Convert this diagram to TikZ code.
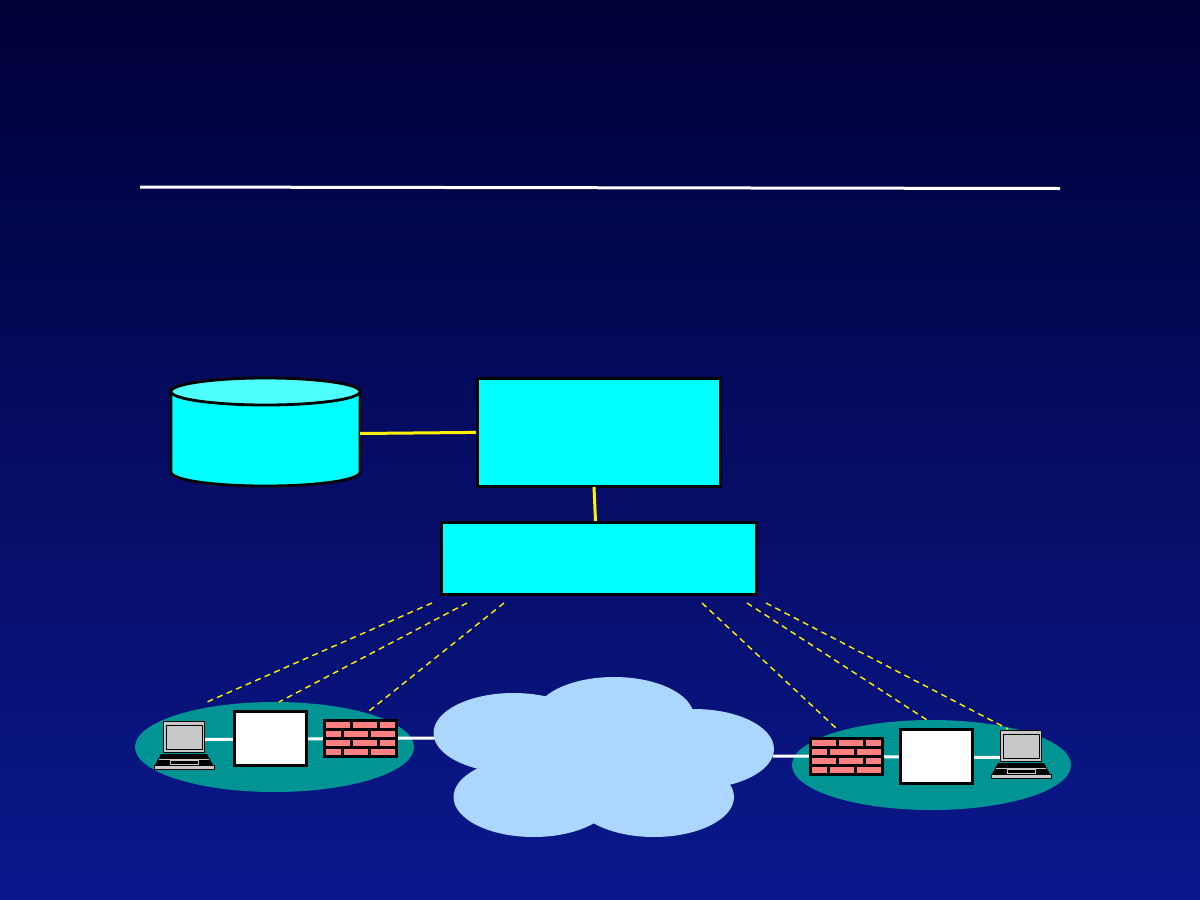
\documentclass[tikz,border=0pt]{standalone}
\usetikzlibrary{calc}
\definecolor{skytop}{RGB}{0,0,56}
\definecolor{skybot}{RGB}{10,24,140}
\definecolor{aqua}{RGB}{0,255,255}
\definecolor{aqualid}{RGB}{77,255,255}
\definecolor{teal}{RGB}{0,148,148}
\definecolor{cloudblue}{RGB}{170,214,255}
\definecolor{brick}{RGB}{255,128,128}
\definecolor{laptopgrey}{RGB}{200,200,200}
\tikzset{
  x=1pt,y=-1pt,
  panel/.style={draw=black,line width=3pt,fill=aqua,inner sep=0},
  whitebox/.style={draw=black,line width=3pt,fill=white,inner sep=0},
  linkyellow/.style={draw=yellow,line width=3pt},
  linkwhite/.style={draw=white,line width=3pt},
  probe/.style={draw=yellow,line width=1.4pt,dash pattern=on 6pt off 4.4pt},
  site/.style={fill=teal,draw=none},
  puff/.style={fill=cloudblue,draw=none},
}
% one firewall: black frame and four courses of bricks, origin top left
\newcommand{\firewall}[2]{%
  \begin{scope}[shift={(#1,#2)}]
    \fill[black] (0,0) rectangle (75,39);
    \foreach \xa/\xb in {3/27,30/54,57/72}{\fill[brick] (\xa,3) rectangle (\xb,9);\fill[brick] (\xa,21) rectangle (\xb,27);}
    \foreach \xa/\xb in {3/18,21/45,48/72}{\fill[brick] (\xa,12) rectangle (\xb,18);\fill[brick] (\xa,30) rectangle (\xb,36);}
  \end{scope}}
% one laptop, origin at the top left of the screen
\newcommand{\laptop}[2]{%
  \begin{scope}[shift={(#1,#2)}]
    \fill[laptopgrey,draw=black,line width=1pt] (.5,.5) rectangle (41.5,31.5);
    \draw[black,line width=1pt] (3.5,4.5) rectangle (39.5,28.5);
    \fill[black] (-2,33) -- (44,33) -- (50,44) -- (-8,44) -- cycle;
    \fill[laptopgrey] (-4,38) rectangle (46,39);
    \draw[laptopgrey,line width=.8pt] (7.5,39.5) rectangle (35,43);
    \fill[laptopgrey,draw=black,line width=1pt] (-8.5,44) rectangle (51.5,48.5);
  \end{scope}}
\begin{document}
\begin{tikzpicture}
\useasboundingbox (0,0) rectangle (1200,900);
\shade[top color=skytop,bottom color=skybot] (0,0) rectangle (1200,900);

% rule below the heading area
\coordinate (ruleL) at (140,187);
\coordinate (ruleR) at (1060,188.5);
\draw[linkwhite] (ruleL) -- (ruleR);

% site ovals
\fill[site] (274.5,747) ellipse [x radius=139.5,y radius=45];
\fill[site] (931.5,765) ellipse [x radius=139.5,y radius=45];

% site links
\coordinate (cloudL) at (436,738);
\coordinate (cloudR) at (773,756);
\coordinate (lapLlink) at (205,739.5);
\coordinate (lapRlink) at (1000,757.5);
\draw[linkwhite] (lapLlink) -- (cloudL);
\draw[linkwhite] (cloudR) -- (lapRlink);

% cloud
\fill[puff] (513.5,733) ellipse [x radius=80,y radius=40];
\fill[puff] (614,717) ellipse [x radius=80,y radius=40];
\fill[puff] (694,749) ellipse [x radius=80,y radius=40];
\fill[puff] (654,797) ellipse [x radius=80,y radius=40];
\fill[puff] (533.5,797) ellipse [x radius=80,y radius=40];
\fill[puff] (600,760) ellipse [x radius=100,y radius=40];

% database cylinder
\path[fill=aqua,draw=black,line width=2.8pt] (171,391) -- (171,472)
  .. controls (171,480) and (213,486) .. (265.5,486) .. controls (318,486) and (360,480) .. (360,472) -- (360,391) -- cycle;
\path[fill=aqualid,draw=black,line width=2.8pt] (265.5,391.5) ellipse [x radius=94.5,y radius=13.5];
\coordinate (dbport) at (360,433.5);

% central boxes
\node[panel,minimum width=242.6pt,minimum height=108.2pt] (upper) at (598.8,432.4) {};
\node[panel,minimum width=315pt,minimum height=72pt] (lower) at (599,558.3) {};
\draw[linkyellow] (dbport) -- (upper.west);
\coordinate (upperport) at (594,487);
\coordinate (lowerport) at (595.5,521);
\draw[linkyellow] (upperport) -- (lowerport);

% dashed guide lines
\coordinate (a1) at (432,603); \coordinate (a2) at (207,702);
\coordinate (b1) at (467,603); \coordinate (b2) at (279,702);
\coordinate (c1) at (504,603); \coordinate (c2) at (369,711);
\coordinate (d1) at (702,603); \coordinate (d2) at (837,729);
\coordinate (e1) at (747,603); \coordinate (e2) at (927,720);
\coordinate (f1) at (766,603); \coordinate (f2) at (1008,729);
\draw[probe] (a1) -- (a2);
\draw[probe] (b1) -- (b2);
\draw[probe] (c1) -- (c2);
\draw[probe] (d1) -- (d2);
\draw[probe] (e1) -- (e2);
\draw[probe] (f1) -- (f2);

% site equipment
\node[whitebox,minimum width=72pt,minimum height=54pt] (hostL) at (270.4,738.4) {};
\node[whitebox,minimum width=72pt,minimum height=54pt] (hostR) at (936.5,756.4) {};
\firewall{323}{719}
\firewall{809}{737}
\laptop{163}{721}
\laptop{1000}{730}
\end{tikzpicture}
\end{document}
